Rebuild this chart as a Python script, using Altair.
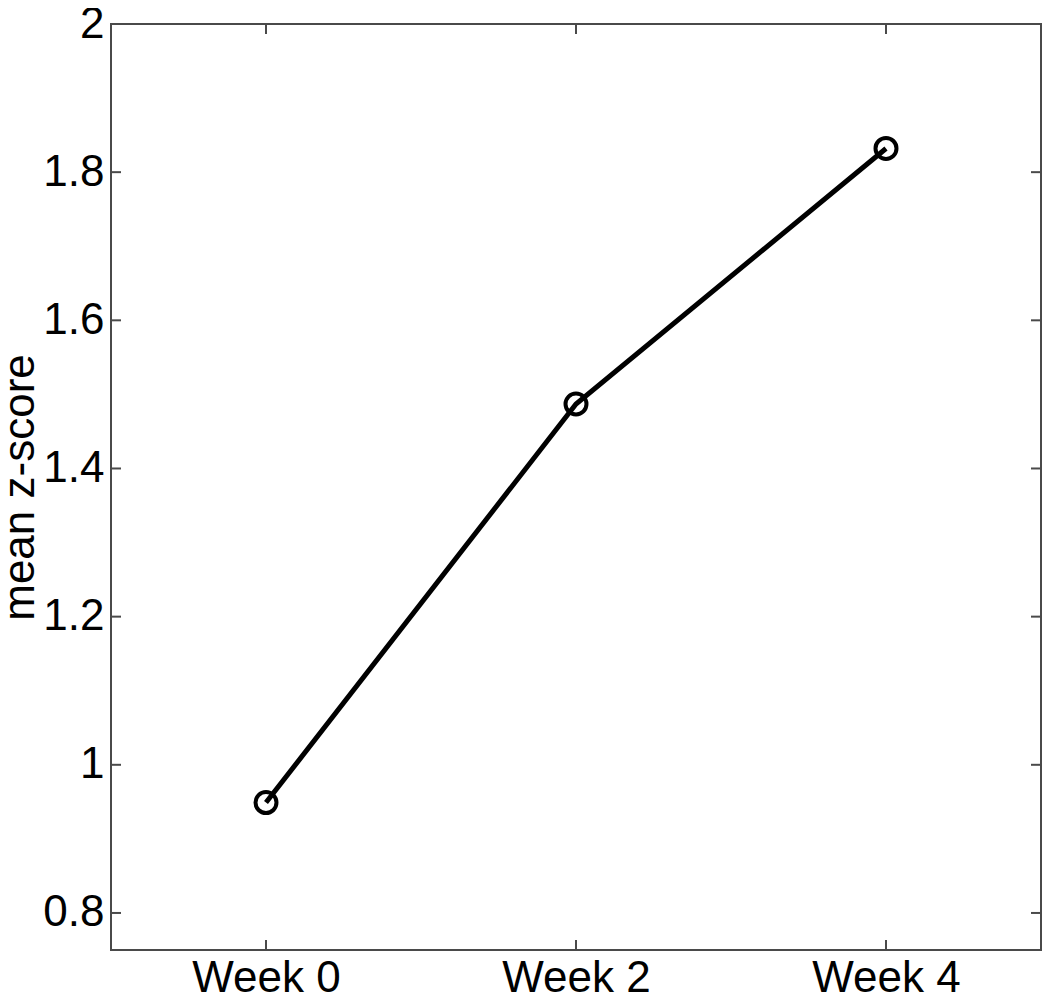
import altair as alt
import pandas as pd

weeks = [0, 2, 4]
week_labels = ["Week 0", "Week 2", "Week 4"]
mean_z = [0.949, 1.487, 1.832]
y_ticks = [0.8, 1.0, 1.2, 1.4, 1.6, 1.8, 2.0]

df = pd.DataFrame({"week": weeks, "label": week_labels, "z": mean_z})
yt = pd.DataFrame({"v": y_ticks})
xt = pd.DataFrame({"w": weeks})

FONT = "Liberation Sans"
FS = 44
W, H = 930, 926
GRAY = "#4a4a4a"

xs = alt.Scale(domain=[-1, 5], nice=False, zero=False)
ys = alt.Scale(domain=[0.75, 2.0], nice=False, zero=False)

x_axis = alt.Axis(values=weeks, labelExpr="'Week ' + datum.value", ticks=False,
                  domain=False, grid=False, labelFontSize=FS, labelFont=FONT,
                  labelColor="black", labelPadding=6, title=None)
y_axis = alt.Axis(values=y_ticks, format="~g",
                  ticks=False, domain=False, grid=False, labelFontSize=FS,
                  labelFont=FONT, labelColor="black", labelPadding=7,
                  title="mean z-score", titleFontSize=FS, titleFont=FONT,
                  titleFontWeight="normal", titleColor="black",
                  titleAngle=270, titleBaseline="alphabetic", titleAlign="center",
                  titleX=-78, titleY=H / 2)

line = alt.Chart(df).mark_line(color="black", strokeWidth=5).encode(
    x=alt.X("week:Q", scale=xs, axis=x_axis),
    y=alt.Y("z:Q", scale=ys, axis=y_axis),
)
pts = alt.Chart(df).mark_point(shape="circle", filled=False, color="black",
                               size=440, strokeWidth=4, opacity=1).encode(
    x=alt.X("week:Q", scale=xs),
    y=alt.Y("z:Q", scale=ys),
)

tick_style = dict(color=GRAY, strokeWidth=2)
yl = alt.Chart(yt).mark_rule(**tick_style).encode(
    y=alt.Y("v:Q", scale=ys), x=alt.value(0), x2=alt.value(10))
yr = alt.Chart(yt).mark_rule(**tick_style).encode(
    y=alt.Y("v:Q", scale=ys), x=alt.value(W - 10), x2=alt.value(W))
xb = alt.Chart(xt).mark_rule(**tick_style).encode(
    x=alt.X("w:Q", scale=xs), y=alt.value(H), y2=alt.value(H - 10))
xtp = alt.Chart(xt).mark_rule(**tick_style).encode(
    x=alt.X("w:Q", scale=xs), y=alt.value(0), y2=alt.value(10))

chart = alt.layer(yl, yr, xb, xtp, line, pts).properties(
    width=W, height=H,
    autosize=alt.AutoSizeParams(type="none"),
    padding={"left": 103, "top": 16, "right": 1, "bottom": 44},
    view=alt.ViewBackground(stroke=GRAY, strokeWidth=2),
).configure_view(stroke=GRAY, strokeWidth=2).configure(background="white")

chart.save("out.html", embed_options={"renderer": "svg", "actions": False})
